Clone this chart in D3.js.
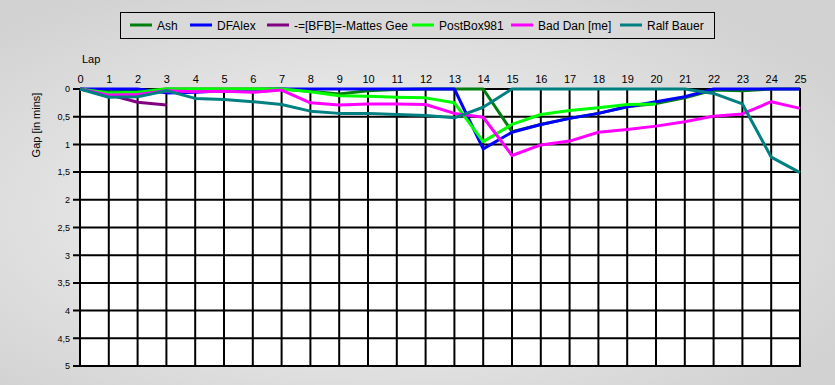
<!DOCTYPE html>
<html>
<head>
<meta charset="utf-8">
<script src="https://cdn.jsdelivr.net/npm/d3@7"></script>
<style>
  body { margin: 0; }
  svg { display: block; font-family: "Liberation Sans", Arial, sans-serif; }
</style>
</head>
<body>
<script>
// size
var w = 835;
var h = 385;

// laps 0..25
const laps = d3.range(0, 26);
const yTicks = [0, 0.5, 1, 1.5, 2, 2.5, 3, 3.5, 4, 4.5, 5];

// gap in minutes per lap
const ash     = [0, 0.05, 0.04, 0, 0, 0, 0, 0, 0.04, 0.09, 0.03, 0.01, 0, 0, 0, 0.77, 0.64, 0.53, 0.44, 0.32, 0.26, 0.16, 0.02, 0.03, 0, 0];
const dfalex  = [0, 0, 0, 0.07, 0.06, 0.03, 0.01, 0, 0, 0, 0, 0, 0, 0, 1.08, 0.78, 0.64, 0.53, 0.44, 0.32, 0.23, 0.14, 0, 0, 0, 0];
const mattes  = [0, 0.1, 0.24, 0.29];
const postbox = [0, 0.07, 0.06, 0, 0, 0, 0, 0, 0.05, 0.12, 0.13, 0.15, 0.16, 0.25, 0.95, 0.64, 0.46, 0.39, 0.34, 0.28, 0.27];
const baddan  = [0, 0.11, 0.1, 0.03, 0.05, 0.04, 0.06, 0.02, 0.25, 0.29, 0.27, 0.27, 0.28, 0.44, 0.51, 1.2, 1.01, 0.94, 0.78, 0.73, 0.67, 0.59, 0.49, 0.45, 0.23, 0.35];
const ralf    = [0, 0.15, 0.14, 0.03, 0.17, 0.19, 0.23, 0.28, 0.4, 0.44, 0.44, 0.46, 0.48, 0.52, 0.33, 0, 0, 0, 0, 0, 0, 0, 0.08, 0.27, 1.23, 1.51];

const names  = ["Ash", "DFAlex", "-=[BFB]=-Mattes Gee", "PostBox981", "Bad Dan [me]", "Ralf Bauer"];
const values = [ash, dfalex, mattes, postbox, baddan, ralf];
const colors = ["#007f0e", "#0000ff", "#800080", "#00ff00", "#ff00ff", "#008080"];

const m = { top: 89, right: 35, bottom: 19, left: 80 };

const x = d3.scaleLinear().domain([0, 25]).range([m.left, w - m.right]);
const y = d3.scaleLinear().domain([0, 5]).range([m.top, h - m.bottom]);

const svg = d3.select("body").append("svg")
    .attr("width", w)
    .attr("height", h);

// background gradient
const grad = svg.append("defs").append("radialGradient")
    .attr("id", "bg")
    .attr("cx", "45%").attr("cy", "55%").attr("r", "65%");
grad.append("stop").attr("offset", "0%").attr("stop-color", "#f7f7f7");
grad.append("stop").attr("offset", "100%").attr("stop-color", "#d2d2d2");
svg.append("rect").attr("width", w).attr("height", h).attr("fill", "url(#bg)");

// plot area
svg.append("rect")
    .attr("x", x(0)).attr("y", y(0))
    .attr("width", x(25) - x(0)).attr("height", y(5) - y(0))
    .attr("fill", "#fff");

// grid
svg.append("g").selectAll("line")
    .data(laps).enter().append("line")
    .attr("x1", d => x(d)).attr("x2", d => x(d))
    .attr("y1", y(0)).attr("y2", y(5))
    .attr("stroke", "#000").attr("stroke-width", 2);

svg.append("g").selectAll("line")
    .data(yTicks).enter().append("line")
    .attr("x1", x(0) - 7).attr("x2", x(25) + 1)
    .attr("y1", d => y(d)).attr("y2", d => y(d))
    .attr("stroke", "#000").attr("stroke-width", 2);

// x axis labels on top
const xAxis = d3.axisTop(x).tickValues(laps).tickSize(0).tickPadding(6);
const gx = svg.append("g").attr("transform", `translate(0,${y(0)})`).call(xAxis);
gx.select(".domain").remove();
gx.selectAll("text").attr("font-size", 11).attr("fill", "#000")
    .attr("font-family", "Liberation Sans, Arial, sans-serif");

// y axis labels
const fmt = d => String(d).replace(".", ",");
const yAxis = d3.axisLeft(y).tickValues(yTicks).tickSize(0).tickPadding(10).tickFormat(fmt);
const gy = svg.append("g").attr("transform", `translate(${x(0)},0)`).call(yAxis);
gy.select(".domain").remove();
gy.selectAll("text").attr("font-size", 9).attr("fill", "#000")
    .attr("font-family", "Liberation Sans, Arial, sans-serif");

// axis titles
svg.append("text").attr("x", 82).attr("y", 63)
    .attr("font-size", 11).text("Lap");
svg.append("text")
    .attr("transform", "translate(40,125) rotate(-90)")
    .attr("text-anchor", "middle")
    .attr("font-size", 11).text("Gap [in mins]");

// series lines
const line = d3.line()
    .x((d, i) => x(i))
    .y(d => y(d));

svg.append("g").selectAll("path")
    .data(values).enter().append("path")
    .attr("d", d => line(d))
    .attr("fill", "none")
    .attr("stroke", (d, i) => colors[i])
    .attr("stroke-width", 3)
    .attr("stroke-linejoin", "round");

// legend
const legX = [130, 190, 267, 412, 511, 620];
const leg = svg.append("g");
leg.append("rect")
    .attr("x", 120.5).attr("y", 12.5).attr("width", 594).attr("height", 26)
    .attr("fill", "#d9d9d9").attr("stroke", "#000");

const items = leg.selectAll("g.item")
    .data(names).enter().append("g")
    .attr("class", "item")
    .attr("transform", (d, i) => `translate(${legX[i]},25)`);
items.append("line")
    .attr("x1", 0).attr("x2", 22).attr("y1", 0).attr("y2", 0)
    .attr("stroke", (d, i) => colors[i]).attr("stroke-width", 3);
items.append("text")
    .attr("x", 27).attr("y", 4.5)
    .attr("font-size", 12)
    .text(d => d);
</script>
</body>
</html>
